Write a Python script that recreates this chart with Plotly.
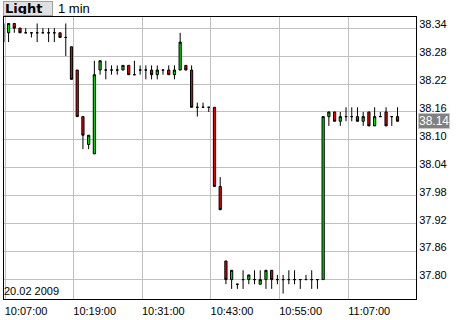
import pandas as pd
import plotly.graph_objects as go

# ---- data (1-minute candles, 20.02.2009, 10:07 .. 11:16) ----
start_time = "2009-02-20 10:07:00"
open_ = [38.35, 38.33, 38.35, 38.34, 38.33, 38.33, 38.33, 38.33, 38.33, 38.33,
         38.33, 38.32, 38.30, 38.25, 38.15, 38.09, 38.07, 38.25, 38.25, 38.25,
         38.25, 38.25, 38.26, 38.24, 38.25, 38.25, 38.25, 38.24, 38.25, 38.25,
         38.24, 38.25, 38.26, 38.25, 38.17, 38.17, 38.17, 38.17, 38.00, 37.84,
         37.80, 37.79, 37.80, 37.80, 37.80, 37.79, 37.80, 37.82, 37.80, 37.80,
         37.80, 37.80, 37.80, 37.80, 37.80, 37.80, 37.80, 38.15, 38.16, 38.14,
         38.15, 38.15, 38.15, 38.14, 38.16, 38.13, 38.15, 38.16, 38.15, 38.15]
high = [38.35, 38.35, 38.35, 38.34, 38.34, 38.33, 38.35, 38.34, 38.34, 38.34,
        38.33, 38.35, 38.30, 38.25, 38.15, 38.11, 38.27, 38.27, 38.27, 38.26,
        38.26, 38.26, 38.26, 38.27, 38.26, 38.26, 38.26, 38.26, 38.25, 38.26,
        38.26, 38.33, 38.26, 38.26, 38.18, 38.18, 38.17, 38.17, 38.02, 37.84,
        37.82, 37.79, 37.82, 37.81, 37.82, 37.82, 37.82, 37.82, 37.81, 37.81,
        37.82, 37.82, 37.80, 37.81, 37.82, 37.80, 38.15, 38.16, 38.16, 38.16,
        38.17, 38.17, 38.17, 38.16, 38.16, 38.17, 38.16, 38.17, 38.15, 38.17]
low = [38.31, 38.31, 38.33, 38.33, 38.33, 38.32, 38.31, 38.33, 38.31, 38.31,
       38.32, 38.28, 38.23, 38.15, 38.08, 38.08, 38.07, 38.24, 38.23, 38.24,
       38.24, 38.25, 38.24, 38.24, 38.24, 38.23, 38.23, 38.23, 38.24, 38.24,
       38.23, 38.25, 38.25, 38.17, 38.15, 38.17, 38.16, 38.00, 37.95, 37.79,
       37.78, 37.78, 37.78, 37.79, 37.79, 37.79, 37.78, 37.78, 37.79, 37.77,
       37.79, 37.79, 37.78, 37.80, 37.78, 37.78, 37.80, 38.13, 38.14, 38.13,
       38.14, 38.14, 38.14, 38.13, 38.13, 38.13, 38.15, 38.13, 38.13, 38.14]
close = [38.31, 38.35, 38.34, 38.33, 38.33, 38.33, 38.33, 38.33, 38.33, 38.33,
         38.32, 38.32, 38.23, 38.15, 38.11, 38.11, 38.24, 38.27, 38.25, 38.25,
         38.25, 38.26, 38.24, 38.24, 38.25, 38.25, 38.24, 38.25, 38.25, 38.24,
         38.25, 38.31, 38.25, 38.17, 38.17, 38.17, 38.17, 38.00, 37.95, 37.80,
         37.82, 37.79, 37.80, 37.81, 37.80, 37.80, 37.82, 37.80, 37.80, 37.80,
         37.80, 37.80, 37.80, 37.80, 37.80, 37.80, 38.15, 38.16, 38.14, 38.15,
         38.15, 38.15, 38.14, 38.15, 38.13, 38.15, 38.15, 38.13, 38.15, 38.14]

y_ticks = [37.80, 37.86, 37.92, 37.98, 38.04, 38.10, 38.16, 38.22, 38.28, 38.34]
x_tick_labels = ["10:07:00", "10:19:00", "10:31:00", "10:43:00", "10:55:00", "11:07:00"]
date_label = "20.02 2009"
interval_label = "1 min"
style_label = "Light"

times = pd.date_range(start_time, periods=len(close), freq="1min")
last_price = close[-1]

# grid lines in the original sit slightly right of candle centres
tick_offset = pd.Timedelta(seconds=23)
tickvals = [pd.Timestamp("2009-02-20 " + t) + tick_offset for t in x_tick_labels]

GREEN = "#00e000"
RED = "#ee0000"
AXIS_FONT = dict(family="Liberation Sans, Arial, sans-serif", size=11, color="#000000")

fig = go.Figure(go.Candlestick(
    x=times, open=open_, high=high, low=low, close=close,
    increasing=dict(fillcolor=GREEN, line=dict(color="#000000", width=1)),
    decreasing=dict(fillcolor=RED, line=dict(color="#000000", width=1)),
    whiskerwidth=0,
    showlegend=False,
    hoverinfo="skip",
))

fig.update_layout(
    width=460, height=320,
    margin=dict(l=3, r=44, t=17, b=17),
    paper_bgcolor="#ffffff", plot_bgcolor="#ffffff",
    boxgap=0.45,
    showlegend=False,
    xaxis=dict(
        type="date",
        range=[pd.Timestamp("2009-02-20 10:07:12"), pd.Timestamp("2009-02-20 11:19:14")],
        rangeslider=dict(visible=False),
        tickmode="array", tickvals=tickvals, ticktext=x_tick_labels,
        showgrid=True, gridcolor="#c0c0c0", gridwidth=1,
        showline=True, linecolor="#000000", linewidth=1, mirror=True,
        ticks="", tickfont=AXIS_FONT, ticklabelshift=21, ticklabelstandoff=2,
        zeroline=False, fixedrange=True,
    ),
    yaxis=dict(
        side="right",
        range=[37.7583, 38.3639],
        tickmode="array", tickvals=y_ticks,
        tickformat=".2f",
        showgrid=True, gridcolor="#c0c0c0", gridwidth=1,
        showline=True, linecolor="#000000", linewidth=1, mirror=True,
        ticks="", tickfont=AXIS_FONT, ticklabelshift=-4,
        zeroline=False, fixedrange=True,
    ),
    annotations=[
        dict(xref="paper", yref="paper", x=0, y=1, xanchor="left", yanchor="bottom",
             xshift=-1, yshift=1, text="<b>" + style_label + "</b>",
             font=dict(family="DejaVu Sans, sans-serif", size=13, color="#000000"),
             bgcolor="#e0e0e0", bordercolor="#a0a0a0", borderwidth=1, borderpad=1,
             width=46, height=11, align="left", showarrow=False),
        dict(xref="paper", yref="paper", x=0, y=1, xanchor="left", yanchor="bottom",
             xshift=53, yshift=0, text=interval_label,
             font=dict(family="Liberation Sans, Arial, sans-serif", size=13, color="#000000"),
             showarrow=False, borderpad=0),
        dict(xref="paper", yref="paper", x=0, y=0, xanchor="left", yanchor="bottom",
             xshift=-1, yshift=1, text=date_label, font=AXIS_FONT,
             showarrow=False, borderpad=0),
        dict(xref="paper", yref="y", x=1, y=last_price, xanchor="left", yanchor="middle",
             xshift=2, text=f"{last_price:.2f}",
             font=dict(family="Liberation Sans, Arial, sans-serif", size=12, color="#ffffff"),
             bgcolor="#808080", bordercolor="#c8c8c8", borderwidth=1, borderpad=0,
             showarrow=False),
    ],
)

fig.write_html("out.html", config=dict(displayModeBar=False))
